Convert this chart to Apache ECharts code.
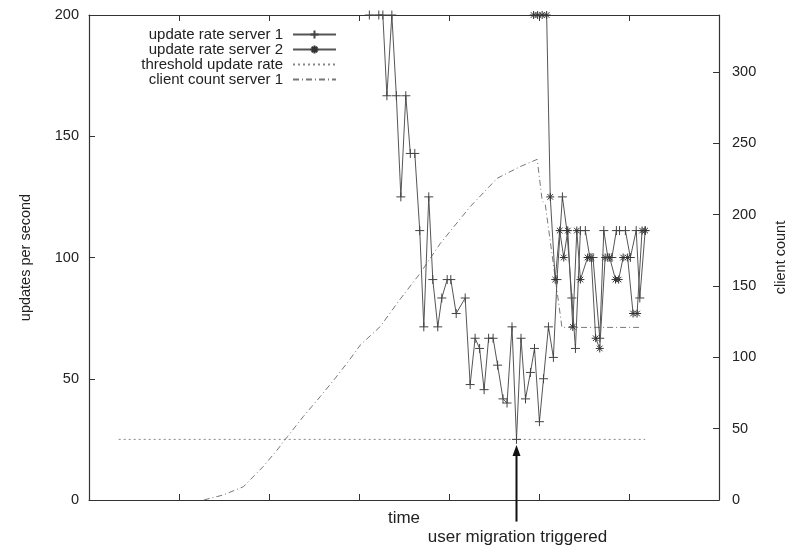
<!DOCTYPE html>
<html>
<head>
<meta charset="utf-8">
<script src="https://cdn.jsdelivr.net/npm/echarts@6/dist/echarts.min.js"></script>
<style>
  html, body { margin: 0; padding: 0; background: #fff; }
  #main { width: 790px; height: 549px; }
</style>
</head>
<body>
<div id="main"></div>
<script>
// time in seconds, values in updates per second
var server1Time = [62.3, 64.4, 65.3, 66.2, 67.3, 68.3, 69.3, 70.4, 71.4, 72.4, 73.5, 74.4, 75.5, 76.4, 77.5, 78.4, 79.6, 80.4, 81.6, 83.6,
  84.7, 85.8, 86.8, 87.8, 88.8, 89.8, 90.8, 92.0, 92.9, 94.0, 95.0, 96.0, 97.0, 98.1, 99.0, 100.1, 101.0, 102.1, 103.2, 104.0,
  105.2, 106.2, 107.3, 108.1, 109.2, 110.3, 111.3, 112.0, 113.5, 114.4, 115.3, 116.2, 117.2, 117.9, 119.2, 120.3, 121.6, 122.4, 123.6];
var server1Rate = [200, 200, 200, 166.7, 200, 166.7, 125, 166.7, 142.9, 142.9, 111.1, 71.4, 125, 90.9, 71.4, 83.3, 90.9, 90.9, 76.9, 83.3,
  47.6, 66.7, 62.5, 45.5, 66.7, 66.7, 55.6, 41.7, 40, 71.4, 25, 66.7, 41.7, 52.6, 62.5, 32.3, 50, 71.4, 58.8, 90.9,
  125, 111.1, 83.3, 62.5, 111.1, 111.1, 100, 100, 66.7, 111.1, 100, 100, 111.1, 111.1, 111.1, 100, 111.1, 83.3, 111.1];

var server2Time = [98.8, 99.7, 100.7, 101.7, 102.5, 103.6, 104.6, 105.5, 106.4, 107.5, 108.4, 109.2, 110.8, 111.6, 112.6, 113.5,
  114.7, 115.7, 117.0, 117.7, 118.7, 119.7, 120.9, 121.8, 122.9, 123.6];
var server2Rate = [200, 200, 200, 200, 125, 90.9, 111.1, 100, 111.1, 71.4, 111.1, 90.9, 100, 100, 66.7, 62.5,
  100, 100, 90.9, 90.9, 100, 100, 76.9, 76.9, 111.1, 111.1];

var thresholdTime = [6.6, 123.6];
var thresholdRate = [25, 25];

var clientTime = [25.5, 29.8, 34.3, 38.7, 41.8, 44.1, 47.6, 51.4, 54.7, 57.6, 60.3, 64.7, 69.2, 73.6, 78.1, 84.7, 90.7, 95.8, 99.6,
  100.7, 101.4, 105.1, 122.9];
var clientCount = [0, 3.5, 9.3, 23.4, 35, 44.4, 58.4, 72.5, 85.3, 97, 108.7, 121.5, 141, 159, 180, 205.6, 225.5, 233.7, 238.8,
  210, 207, 121, 121];

// arrow: from below the axis up to just under the threshold line
var migrationTime = 95;
var migrationFrom = -8.9;
var migrationTo = 22.7;
var migrationText = 'user migration triggered';

function pairs(xs, ys) {
  var out = [];
  for (var i = 0; i < xs.length; i++) out.push([xs[i], ys[i]]);
  return out;
}

var plusSym = 'path://M0,4L8,4M4,0L4,8';
var starSym = 'path://M0,4L8,4M4,0L4,8M1.2,1.2L6.8,6.8M1.2,6.8L6.8,1.2';
var font = '"Liberation Sans", Arial, sans-serif';
var axisColor = '#333';

var chart = echarts.init(document.getElementById('main'));

var xCommon = {
  type: 'value',
  min: 0,
  max: 140,
  interval: 20,
  axisLine: { show: true, onZero: false, lineStyle: { color: axisColor, width: 1.2 } },
  axisTick: { show: true, inside: true, length: 6, lineStyle: { color: axisColor } },
  axisLabel: { show: false },
  splitLine: { show: false }
};

var option = {
  backgroundColor: '#fff',
  animation: false,
  textStyle: { fontFamily: font },
  grid: { left: 89, top: 15, right: 71, bottom: 49, outerBoundsMode: 'none', containLabel: false },
  legend: {
    orient: 'vertical',
    align: 'right',
    right: 448,
    top: 22,
    itemWidth: 43,
    itemHeight: 10,
    itemGap: 0,
    textStyle: { fontSize: 15, lineHeight: 15, color: '#222', padding: [0, 5, 0, 0] },
    data: [
      { name: 'update rate server 1' },
      { name: 'update rate server 2' },
      { name: 'threshold update rate', itemStyle: { color: 'transparent', borderColor: 'transparent', opacity: 0 } },
      { name: 'client count server 1', itemStyle: { color: 'transparent', borderColor: 'transparent', opacity: 0 } }
    ]
  },
  xAxis: [
    Object.assign({}, xCommon, {
      position: 'bottom',
      name: 'time',
      nameLocation: 'middle',
      nameGap: 10,
      nameTextStyle: { fontSize: 17, color: '#222', verticalAlign: 'top' }
    }),
    Object.assign({}, xCommon, { position: 'top' })
  ],
  yAxis: [
    {
      type: 'value',
      position: 'left',
      min: 0,
      max: 200,
      interval: 50,
      name: 'updates per second',
      nameLocation: 'middle',
      nameRotate: 90,
      nameGap: 56,
      nameTextStyle: { fontSize: 14.5, color: '#222' },
      axisLine: { show: true, onZero: false, lineStyle: { color: axisColor, width: 1.2 } },
      axisTick: { show: true, inside: true, length: 6, lineStyle: { color: axisColor } },
      axisLabel: { fontSize: 14.5, color: '#222', margin: 10 },
      splitLine: { show: false }
    },
    {
      type: 'value',
      position: 'right',
      min: 0,
      max: 340,
      interval: 50,
      name: 'client count',
      nameLocation: 'middle',
      nameRotate: 90,
      nameGap: 54,
      nameTextStyle: { fontSize: 14.5, color: '#222' },
      axisLine: { show: true, onZero: false, lineStyle: { color: axisColor, width: 1.2 } },
      axisTick: { show: true, inside: true, length: 6, lineStyle: { color: axisColor } },
      axisLabel: { fontSize: 14.5, color: '#222', margin: 13, showMaxLabel: false },
      splitLine: { show: false }
    }
  ],
  series: [
    {
      name: 'update rate server 1',
      type: 'line',
      xAxisIndex: 0,
      yAxisIndex: 0,
      data: pairs(server1Time, server1Rate),
      symbol: plusSym,
      symbolSize: 9,
      showAllSymbol: true,
      lineStyle: { color: '#555', width: 1 },
      itemStyle: { color: '#444', borderColor: '#444', borderWidth: 1 },
      z: 3
    },
    {
      name: 'update rate server 2',
      type: 'line',
      xAxisIndex: 0,
      yAxisIndex: 0,
      data: pairs(server2Time, server2Rate),
      symbol: starSym,
      symbolSize: 8,
      showAllSymbol: true,
      lineStyle: { color: '#555', width: 1 },
      itemStyle: { color: '#333', borderColor: '#333', borderWidth: 1 },
      z: 4
    },
    {
      name: 'threshold update rate',
      type: 'line',
      xAxisIndex: 0,
      yAxisIndex: 0,
      data: pairs(thresholdTime, thresholdRate),
      symbol: 'none',
      lineStyle: { color: '#888', width: 1, type: [2, 3] },
      itemStyle: { color: '#888' },
      z: 2
    },
    {
      name: 'client count server 1',
      type: 'line',
      xAxisIndex: 0,
      yAxisIndex: 1,
      data: pairs(clientTime, clientCount),
      symbol: 'none',
      lineStyle: { color: '#777', width: 1, type: [6, 3, 1, 3] },
      itemStyle: { color: '#777' },
      z: 2
    }
  ]
};

chart.setOption(option);

// annotation arrow, placed through the axis scales
var finder = { xAxisIndex: 0, yAxisIndex: 0 };
var p0 = chart.convertToPixel(finder, [migrationTime, migrationFrom]);
var p1 = chart.convertToPixel(finder, [migrationTime, migrationTo]);
var headLen = 11, headHalf = 4;
chart.setOption({
  graphic: [
    {
      type: 'line',
      z: 10,
      shape: { x1: p0[0], y1: p0[1], x2: p1[0], y2: p1[1] + headLen - 1 },
      style: { stroke: '#111', lineWidth: 2 }
    },
    {
      type: 'polygon',
      z: 10,
      shape: { points: [[p1[0], p1[1]], [p1[0] - headHalf, p1[1] + headLen], [p1[0] + headHalf, p1[1] + headLen]] },
      style: { fill: '#111' }
    },
    {
      type: 'text',
      z: 10,
      x: p0[0] + 1,
      y: p0[1] + 7,
      style: { text: migrationText, font: '17px ' + font, fill: '#222', align: 'center', verticalAlign: 'top' }
    }
  ]
});
</script>
</body>
</html>
